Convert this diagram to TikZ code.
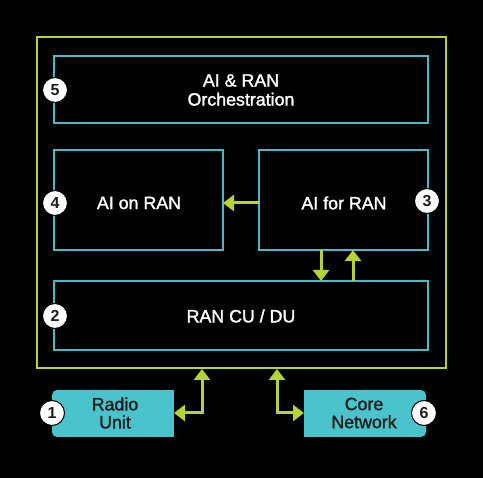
\documentclass[tikz,border=0pt]{standalone}
\usepackage{fontspec}
\setmainfont{Liberation Sans}[BoldFont={Liberation Sans}, BoldFeatures={FakeBold=1.6}]
\newfontfamily\badgefont{Liberation Sans Bold}
\usetikzlibrary{arrows.meta}
\definecolor{lime}{HTML}{B4D335}
\definecolor{teal}{HTML}{4DB8C6}
\definecolor{tealfill}{HTML}{4BC3CC}
\definecolor{dark}{HTML}{1E1E1E}
\tikzset{
  box/.style={draw=teal, line width=1.5pt, fill=black},
  lbl/.style={text=white, font=\fontsize{17.8}{20}\selectfont\bfseries, align=center},
  badge/.style={circle, fill=white, draw=black, line width=1pt, minimum size=25pt, inner sep=0pt, text=dark, font=\fontsize{16}{16}\selectfont\badgefont},
  conn/.style={draw=lime, line width=3pt, -{Triangle[width=16pt,length=11pt]}},
  conn2/.style={draw=lime, line width=3pt, {Triangle[width=16pt,length=11pt]}-{Triangle[width=16pt,length=11pt]}},
}
\begin{document}
\begin{tikzpicture}[x=1pt,y=-1pt]
\fill[black] (0,0) rectangle (483,478);
\useasboundingbox (0,0) rectangle (483,478);
\draw[lime, line width=2pt] (37,37) rectangle (446,368);
% boxes
\draw[box] (54,56) rectangle (428,123);
\node[lbl] (b5) at (241,90) {AI \& RAN\\[-1pt]Orchestration};
\draw[box] (54,150) rectangle (223,250);
\node[lbl] (b4) at (139,203) {AI on RAN};
\draw[box] (259,150) rectangle (428,250);
\node[lbl] (b3) at (344,203) {AI for RAN};
\draw[box] (54,281) rectangle (428,350);
\node[lbl] (b2) at (241,316) {RAN CU / DU};
% bottom boxes
\fill[tealfill, rounded corners=5pt] (52,390) -- (52,437) -- (120,437) -- (120,390) -- cycle;
\fill[tealfill] (100,390) rectangle (174,437);
\node[lbl, text=dark] (ru) at (115,413) {Radio\\[-2pt]Unit};
\fill[tealfill, rounded corners=5pt] (360,390) -- (360,437) -- (426,437) -- (426,390) -- cycle;
\fill[tealfill] (304,390) rectangle (380,437);
\node[lbl, text=dark] (cn) at (364,413) {Core\\[-2pt]Network};
% coordinates
\coordinate (a3l) at (259,203);
\coordinate (a4r) at (223,203);
\coordinate (d1) at (321,250);
\coordinate (d2) at (321,281);
\coordinate (u1) at (353,281);
\coordinate (u2) at (353,250);
\coordinate (ruT) at (202,369);
\coordinate (ruR) at (174,413);
\coordinate (cnT) at (277,369);
\coordinate (cnL) at (304,413);
\draw[conn] (a3l) -- (a4r);
\draw[conn] (d1) -- (d2);
\draw[conn] (u1) -- (u2);
\draw[conn2] (ruT) |- (ruR);
\draw[conn2] (cnT) |- (cnL);
% badges
\node[badge] (n5) at (55,90) {5};
\node[badge] (n4) at (55,203) {4};
\node[badge] (n3) at (427,201) {3};
\node[badge] (n2) at (55,316) {2};
\node[badge] (n1) at (52,413) {1};
\node[badge] (n6) at (424,413) {6};
\end{tikzpicture}
\end{document}
